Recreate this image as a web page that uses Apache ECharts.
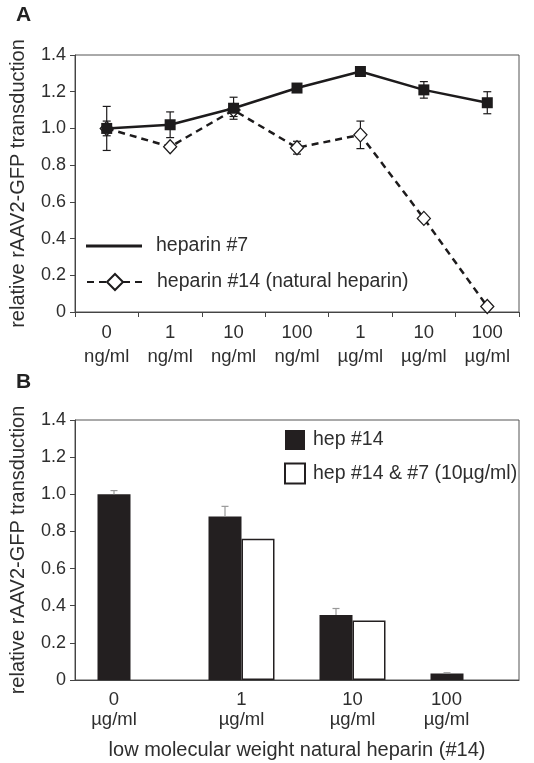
<!DOCTYPE html>
<html><head><meta charset="utf-8">
<script src="https://cdn.jsdelivr.net/npm/echarts@6/dist/echarts.min.js"></script>
<style>html,body{margin:0;padding:0;background:#fff}#c{width:534px;height:763px}</style>
</head><body><div id="c"></div>
<script>
// ---- Panel A data ----
const catsA = ['0\nng/ml','1\nng/ml','10\nng/ml','100\nng/ml','1\nµg/ml','10\nµg/ml','100\nµg/ml'];
const hep7 = [1.00, 1.02, 1.11, 1.22, 1.31, 1.21, 1.14];
const hep7Err = [0.04, 0.07, 0.06, 0.02, 0.01, 0.045, 0.06];
const hep14 = [1.00, 0.90, 1.10, 0.895, 0.965, 0.51, 0.03];
const hep14Err = [0.12, 0, 0.035, 0.035, 0.075, 0, 0];
const nameA7 = 'heparin #7';
const nameA14 = 'heparin #14 (natural heparin)';
// ---- Panel B data ----
const catsB = ['0\nµg/ml','1\nµg/ml','10\nµg/ml','100\nµg/ml'];
const hep14B = [1.00, 0.88, 0.35, 0.035];
const hep14BErr = [0.02, 0.055, 0.035, 0.004];
const hep14and7B = [null, 0.76, 0.32, null];
const nameB1 = 'hep #14';
const nameB2 = 'hep #14 & #7 (10µg/ml)';
const yTitle = 'relative rAAV2-GFP transduction';
const xTitleB = 'low molecular weight natural heparin (#14)';

const FONT = '"Liberation Sans", Arial, sans-serif';
const TXT = '#2e2e2e';
const AX = '#444';
const INK = '#1d1b1c';

function errRender(color, capHalf, upperOnly, xOffset) {
  return function (params, api) {
    const i = api.value(0), v = api.value(1), e = api.value(2);
    if (!e) return null;
    const hi = api.coord([i, v + e]);
    const lo = api.coord([i, upperOnly ? v : v - e]);
    const x = hi[0] + xOffset;
    const st = { stroke: color, lineWidth: 1.2 };
    const ch = [
      { type: 'line', shape: { x1: x, y1: hi[1], x2: x, y2: lo[1] }, style: st },
      { type: 'line', shape: { x1: x - capHalf, y1: hi[1], x2: x + capHalf, y2: hi[1] }, style: st }
    ];
    if (!upperOnly) ch.push({ type: 'line', shape: { x1: x - capHalf, y1: lo[1], x2: x + capHalf, y2: lo[1] }, style: st });
    return { type: 'group', children: ch };
  };
}

function yAxis(gi) {
  return {
    gridIndex: gi, type: 'value', min: 0, max: 1.4, interval: 0.2,
    name: yTitle, nameLocation: 'middle', nameGap: 47,
    nameTextStyle: { fontSize: 20, color: TXT, fontFamily: FONT },
    axisLine: { show: true, lineStyle: { color: AX, width: 1 } },
    axisTick: { show: true, length: 5, lineStyle: { color: AX } },
    axisLabel: { fontSize: 18, color: TXT, fontFamily: FONT, margin: 9,
      formatter: v => v === 0 ? '0' : v.toFixed(1) },
    splitLine: { show: false }
  };
}

const bLabelShift = [33, 0, 0, 34];
const legendText = { fontSize: 19.5, color: TXT, lineHeight: 20, fontFamily: FONT };
const option = {
  animation: false,
  backgroundColor: '#fff',
  textStyle: { fontFamily: FONT },
  title: [
    { text: 'A', left: 16, top: 5, padding: 0, textStyle: { fontSize: 21, fontWeight: 'bold', color: '#222', fontFamily: FONT } },
    { text: 'B', left: 16, top: 372, padding: 0, textStyle: { fontSize: 21, fontWeight: 'bold', color: '#222', fontFamily: FONT } }
  ],
  grid: [
    { left: 67, top: 55, width: 452, height: 257, show: true, borderColor: '#555', borderWidth: 1 },
    { left: 67, top: 420, width: 452, height: 260, show: true, borderColor: '#555', borderWidth: 1 }
  ],
  legend: [
    { data: [{ name: nameA7, icon: 'rect' }], left: 86, top: 236, padding: 0, itemWidth: 56, itemHeight: 3,
      selectedMode: false, textStyle: Object.assign({ padding: [0, 0, 0, 9] }, legendText) },
    { data: [nameA14], left: 86, top: 272, padding: 0, itemWidth: 56, itemHeight: 20,
      selectedMode: false, textStyle: Object.assign({ padding: [0, 0, 0, 9] }, legendText) },
    { data: [{ name: nameB1, icon: 'rect' }, { name: nameB2, icon: 'rect' }], orient: 'vertical',
      left: 284, top: 430, padding: 0, itemWidth: 20, itemHeight: 20, itemGap: 12.5,
      selectedMode: false, textStyle: Object.assign({ padding: [0, 0, 0, 3] }, legendText) }
  ],
  xAxis: [
    { gridIndex: 0, type: 'category', data: catsA, boundaryGap: true,
      axisLine: { show: true, lineStyle: { color: AX } },
      axisTick: { show: true, length: 5, alignWithLabel: false, lineStyle: { color: AX } },
      axisLabel: { interval: 0, fontSize: 18.5, lineHeight: 24, margin: 9, color: TXT, fontFamily: FONT },
      splitLine: { show: false } },
    { gridIndex: 1, type: 'category',
      data: catsB.map((c, i) => bLabelShift[i] ? { value: c, textStyle: { padding: [0, bLabelShift[i], 0, 0] } } : c),
      boundaryGap: true,
      name: xTitleB, nameLocation: 'middle', nameGap: 60,
      nameTextStyle: { fontSize: 20, color: TXT, fontFamily: FONT },
      axisLine: { show: true, lineStyle: { color: AX } },
      axisTick: { show: false },
      axisLabel: { interval: 0, fontSize: 18.5, lineHeight: 20, margin: 10, color: TXT, fontFamily: FONT },
      splitLine: { show: false } }
  ],
  yAxis: [yAxis(0), yAxis(1)],
  series: [
    { type: 'custom', xAxisIndex: 0, yAxisIndex: 0, z: 1, silent: true,
      data: hep14.map((v, i) => [i, v, hep14Err[i]]), encode: { x: 0, y: 1 },
      renderItem: errRender(INK, 4, false, 0) },
    { type: 'custom', xAxisIndex: 0, yAxisIndex: 0, z: 1, silent: true,
      data: hep7.map((v, i) => [i, v, hep7Err[i]]), encode: { x: 0, y: 1 },
      renderItem: errRender(INK, 4, false, 0) },
    { name: nameA14, type: 'line', xAxisIndex: 0, yAxisIndex: 0, z: 3, data: hep14,
      symbol: 'diamond', symbolSize: [13, 14],
      itemStyle: { color: '#fff', borderColor: INK, borderWidth: 1.3 },
      lineStyle: { color: INK, width: 2.5, type: [7, 5] } },
    { name: nameA7, type: 'line', xAxisIndex: 0, yAxisIndex: 0, z: 4, data: hep7,
      symbol: 'rect', symbolSize: 11,
      itemStyle: { color: INK },
      lineStyle: { color: INK, width: 2.5 } },
    { name: nameB1, type: 'bar', xAxisIndex: 1, yAxisIndex: 1, data: hep14B,
      barWidth: 33, barGap: '0%', itemStyle: { color: '#231f20' } },
    { name: nameB2, type: 'bar', xAxisIndex: 1, yAxisIndex: 1, data: hep14and7B,
      barWidth: 33, barGap: '0%', itemStyle: { color: '#fff', borderColor: '#231f20', borderWidth: 1.5 } },
    { type: 'custom', xAxisIndex: 1, yAxisIndex: 1, z: 5, silent: true,
      data: hep14B.map((v, i) => [i, v, hep14BErr[i]]), encode: { x: 0, y: 1 },
      renderItem: errRender('#999', 3.5, true, -16.5) }
  ]
};
const chart = echarts.init(document.getElementById('c'), null, { renderer: 'canvas' });
chart.setOption(option);
</script>
</body></html>
